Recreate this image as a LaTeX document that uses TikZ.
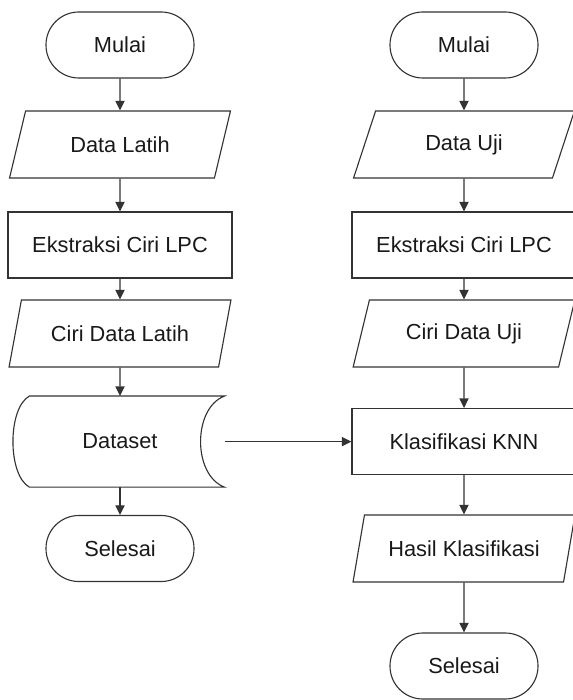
\documentclass[tikz,border=0pt]{standalone}
\usepackage{fontspec}
\setmainfont{Liberation Sans}
\usetikzlibrary{shapes.geometric,
				arrows.meta,
				calc}

\begin{document}
\begin{tikzpicture}[
	font=\fontsize{15.5}{18}\selectfont, text=black!90,
	line width=0.8pt,
	terminal/.style={draw=black!80, rectangle, rounded corners=0.82cm, minimum width=3.7cm, minimum height=1.65cm},
	io/.style={draw=black!80, trapezium, trapezium left angle=70, trapezium right angle=110, trapezium stretches=true, minimum width=5.55cm, minimum height=1.675cm},
	process/.style={draw=black!80, rectangle, minimum width=5.6cm, minimum height=1.65cm},
	storage/.style={rectangle, minimum width=5.2cm, minimum height=2.25cm},
	flow/.style={draw=black!80, -{Triangle[length=2.4mm, width=2.3mm]}}]

\useasboundingbox (0,0) rectangle (14.325,-17.5);

% training
\node[terminal] (mulaiL) at (3,-1.125) {Mulai};
\node[io] (dataL) at (3,-3.6125) {Data Latih};
\node[process] (lpcL) at (3,-6.125) {Ekstraksi Ciri LPC};
\node[io] (ciriL) at (3,-8.3375) {Ciri Data Latih};
\node[storage] (dataset) at (3,-11.04) {Dataset};
\node[terminal] (selesaiL) at (3,-13.7125) {Selesai};

\draw[black!80] ($(dataset.north west)+(0.35,0)$) -- (dataset.north east)
	.. controls ($(dataset.north east)+(-0.8,-0.3)$) and ($(dataset.south east)+(-0.8,0.3)$) .. (dataset.south east)
	-- ($(dataset.south west)+(0.35,0)$)
	.. controls ($(dataset.south west)+(-0.2,0.3)$) and ($(dataset.north west)+(-0.2,-0.3)$) .. cycle;

% testing
\node[terminal] (mulaiR) at (11.6,-1.125) {Mulai};
\node[io] (dataR) at (11.6,-3.6125) {Data Uji};
\node[process] (lpcR) at (11.6,-6.125) {Ekstraksi Ciri LPC};
\node[io] (ciriR) at (11.6,-8.3375) {Ciri Data Uji};
\node[process] (knn) at (11.6,-11.04) {Klasifikasi KNN};
\node[io] (hasil) at (11.6,-13.7125) {Hasil Klasifikasi};
\node[terminal] (selesaiR) at (11.6,-16.65) {Selesai};

\draw[flow] (mulaiL) -- (dataL);
\draw[flow] (dataL) -- (lpcL);
\draw[flow] (lpcL) -- (ciriL);
\draw[flow] (ciriL) -- (dataset);
\draw[flow] (dataset) -- (selesaiL);

\draw[flow] (mulaiR) -- (dataR);
\draw[flow] (dataR) -- (lpcR);
\draw[flow] (lpcR) -- (ciriR);
\draw[flow] (ciriR) -- (knn);
\draw[flow] (knn) -- (hasil);
\draw[flow] (hasil) -- (selesaiR);

\draw[flow] (dataset.east) -- (knn.west);

\end{tikzpicture}
\end{document}
